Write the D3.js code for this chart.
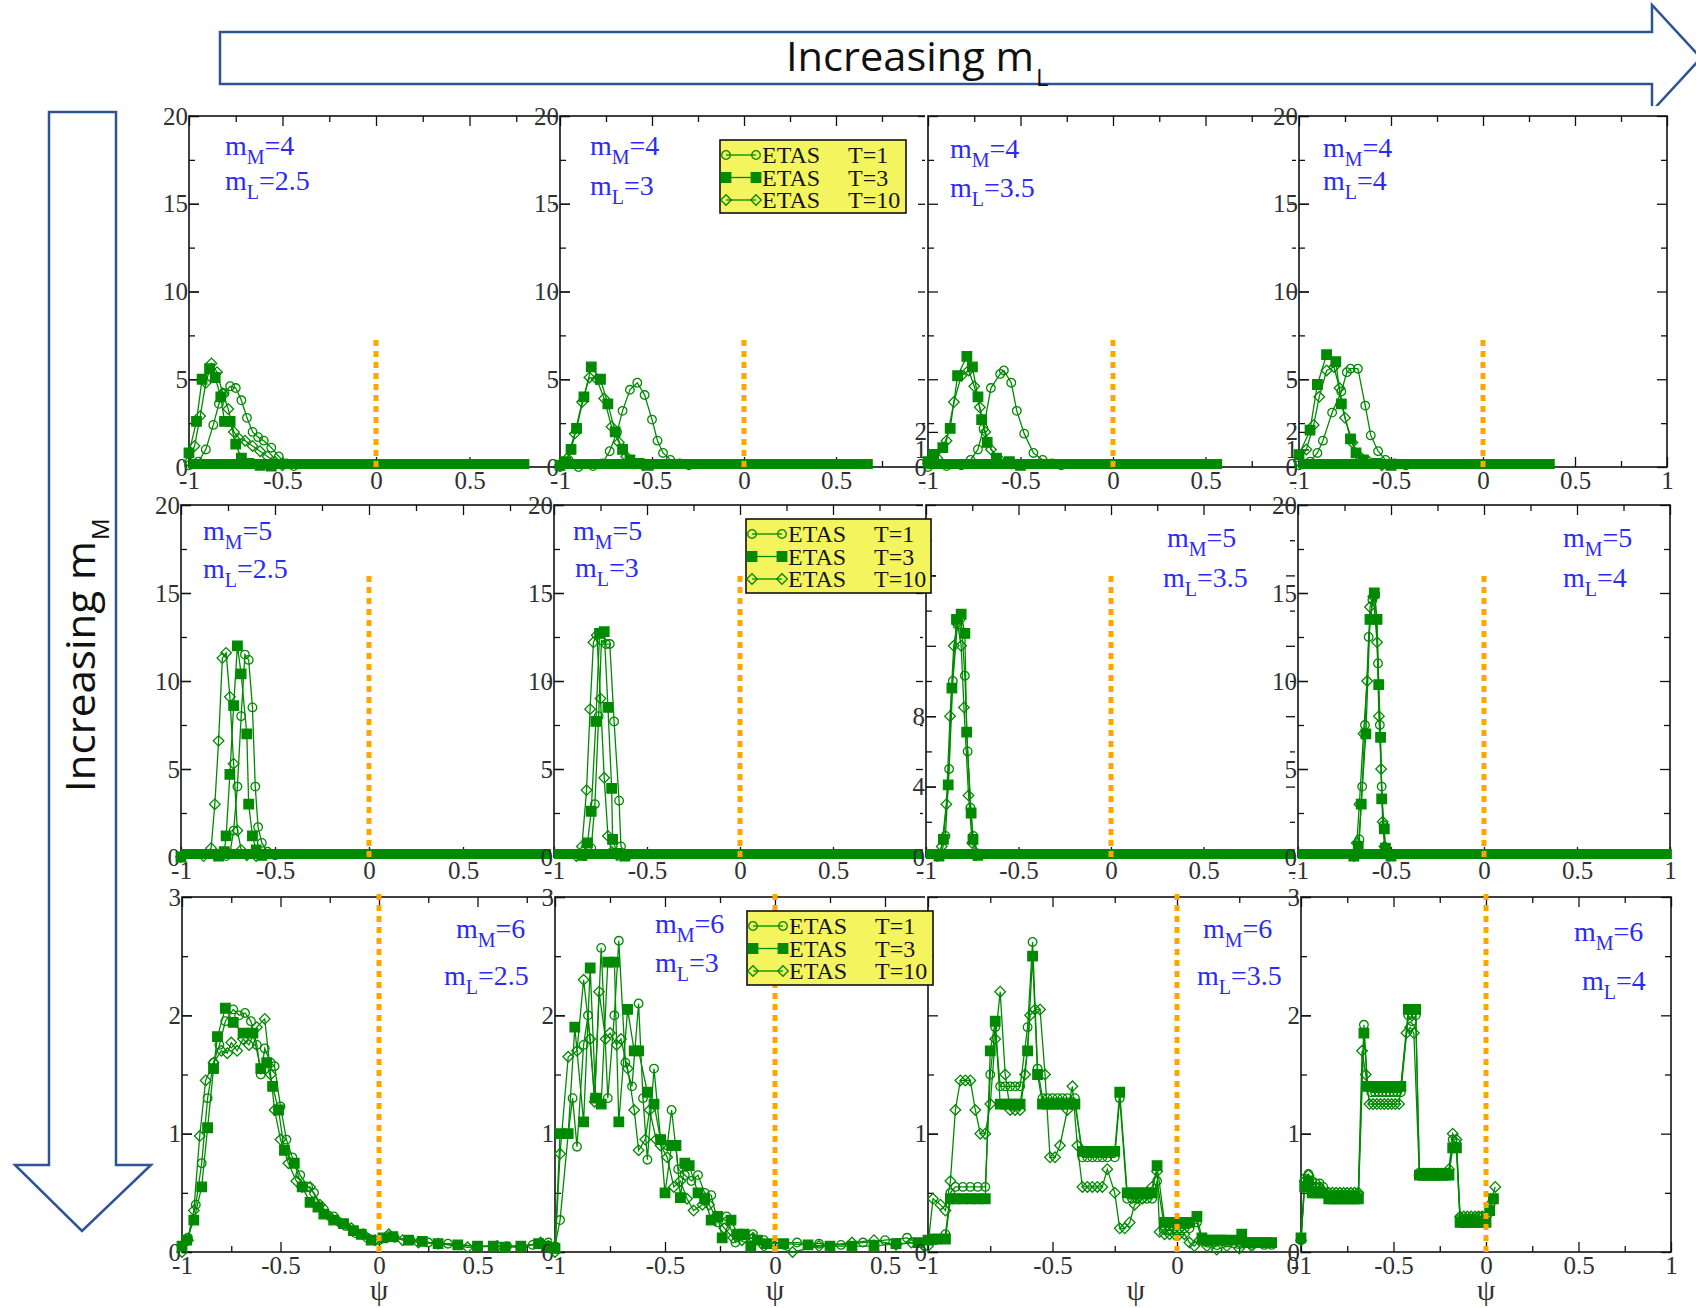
<!DOCTYPE html>
<html lang="en">
<head>
<meta charset="UTF-8">
<title>ETAS - psi distributions for increasing mM and mL</title>
<script src="https://d3js.org/d3.v7.min.js"></script>
<style>
  body { margin: 0; background: #fff; }
  svg { display: block; }
  .tick text { font-family: "Liberation Serif", "DejaVu Serif", serif; font-size: 25px; fill: #303030; }
  .tick line { stroke: #111; stroke-width: 1.3; }
  .ann { font-family: "Liberation Serif", serif; font-size: 28px; fill: #2b2bf5; }
  .ann .sub { font-size: 20px; }
  .legend text { font-family: "Liberation Serif", serif; font-size: 24px; fill: #151515; }
  .psi { font-family: "Liberation Serif", serif; font-size: 29px; fill: #303030; }
  .arrow-text { font-family: "Open Sans", "Noto Sans", sans-serif; font-size: 40px; fill: #111; }
  .arrow-sub { font-family: "Open Sans", "Noto Sans", sans-serif; font-size: 24px; fill: #111; }
</style>
</head>
<body>
<svg id="chart" width="1696" height="1308"></svg>
<script>
// ---------- data: psi distributions, [psi, P(psi)] ----------
// m_M = 4
var m4L25_T1 = [[-1.0,0.1],[-0.95,0.3],[-0.91,1.0],[-0.87,2.4],[-0.84,3.6],[-0.81,4.2],[-0.78,4.6],[-0.75,4.5],[-0.72,3.8],[-0.69,2.8],[-0.66,2.0],[-0.63,1.7],[-0.60,1.5],[-0.56,1.1],[-0.52,0.6],[-0.48,0.2],[-0.44,0.05]];
var m4L25_T3 = [[-1.0,0.8],[-0.96,2.6],[-0.93,5.0],[-0.89,5.6],[-0.86,5.1],[-0.83,4.0],[-0.81,2.6],[-0.78,2.6],[-0.75,1.3],[-0.72,0.5],[-0.68,0.2],[-0.62,0.1],[-0.56,0.05]];
var m4L25_T10 = [[-1.0,0.3],[-0.97,1.2],[-0.94,2.9],[-0.91,4.8],[-0.88,5.9],[-0.85,5.4],[-0.82,4.2],[-0.79,3.3],[-0.76,2.0],[-0.73,1.6],[-0.70,1.5],[-0.66,1.2],[-0.62,0.9],[-0.58,0.6],[-0.54,0.3],[-0.50,0.1]];

var m4L3_T1 = [[-1.0,0.0],[-0.90,0.0],[-0.82,0.05],[-0.77,0.2],[-0.73,0.9],[-0.69,2.0],[-0.66,3.2],[-0.62,4.4],[-0.58,4.8],[-0.54,4.1],[-0.50,2.7],[-0.47,1.5],[-0.44,0.8],[-0.40,0.4],[-0.35,0.2],[-0.30,0.1]];
var m4L3_T3 = [[-1.0,0.1],[-0.97,0.3],[-0.94,1.0],[-0.91,2.2],[-0.87,4.0],[-0.83,5.7],[-0.78,5.0],[-0.74,3.6],[-0.70,2.0],[-0.66,1.0],[-0.62,0.4],[-0.57,0.2],[-0.52,0.1]];
var m4L3_T10 = [[-1.0,0.1],[-0.96,0.5],[-0.92,1.9],[-0.88,3.7],[-0.84,5.1],[-0.80,5.0],[-0.76,3.9],[-0.72,2.3],[-0.68,1.4],[-0.64,0.6],[-0.60,0.2],[-0.55,0.1]];

var m4L35_T1 = [[-1.0,0.0],[-0.90,0.05],[-0.82,0.1],[-0.77,0.4],[-0.73,1.0],[-0.70,2.2],[-0.66,4.5],[-0.61,5.3],[-0.59,5.5],[-0.55,4.8],[-0.52,3.2],[-0.48,1.9],[-0.43,0.8],[-0.38,0.4],[-0.33,0.2],[-0.28,0.1]];
var m4L35_T3 = [[-1.0,0.3],[-0.97,0.7],[-0.92,1.1],[-0.88,2.2],[-0.84,5.2],[-0.79,6.3],[-0.76,5.7],[-0.73,4.0],[-0.71,2.7],[-0.68,1.4],[-0.63,0.5],[-0.56,0.3],[-0.50,0.1]];
var m4L35_T10 = [[-1.0,0.2],[-0.95,0.5],[-0.90,1.5],[-0.86,3.7],[-0.82,5.2],[-0.78,5.5],[-0.75,4.6],[-0.72,3.4],[-0.69,2.0],[-0.66,1.0],[-0.61,0.4],[-0.55,0.2]];

var m4L4_T1 = [[-1.0,0.1],[-0.94,0.3],[-0.90,0.8],[-0.87,1.5],[-0.82,3.1],[-0.77,4.3],[-0.74,5.4],[-0.72,5.6],[-0.68,5.6],[-0.64,3.5],[-0.61,1.8],[-0.57,0.9],[-0.53,0.4],[-0.48,0.2],[-0.42,0.1]];
var m4L4_T3 = [[-1.0,0.7],[-0.94,2.1],[-0.90,4.7],[-0.85,6.4],[-0.80,6.0],[-0.77,3.6],[-0.72,1.6],[-0.69,0.8],[-0.65,0.4],[-0.58,0.2],[-0.50,0.1]];
var m4L4_T10 = [[-1.0,0.3],[-0.96,1.0],[-0.92,2.4],[-0.89,4.0],[-0.85,5.5],[-0.81,5.7],[-0.78,4.5],[-0.75,2.8],[-0.71,1.4],[-0.67,0.6],[-0.62,0.3],[-0.55,0.1]];

// m_M = 5
var m5L25_T1 = [[-1.0,0],[-0.76,0.05],[-0.74,0.2],[-0.72,1.5],[-0.70,4.0],[-0.68,8.0],[-0.66,11.5],[-0.64,11.2],[-0.62,8.5],[-0.605,4.0],[-0.59,1.7],[-0.57,0.8],[-0.54,0.3],[-0.50,0.1]];
var m5L25_T3 = [[-1.0,0],[-0.80,0.05],[-0.77,0.3],[-0.76,1.2],[-0.74,4.7],[-0.72,8.6],[-0.70,12.0],[-0.68,10.4],[-0.65,7.0],[-0.64,3.0],[-0.62,1.2],[-0.60,0.4],[-0.57,0.1]];
var m5L25_T10 = [[-1.0,0],[-0.88,0.05],[-0.84,0.5],[-0.82,3.0],[-0.80,6.6],[-0.78,11.3],[-0.76,11.6],[-0.74,9.1],[-0.72,5.3],[-0.70,1.5],[-0.68,0.4],[-0.65,0.1],[-0.60,0.05]];

var m5L3_T1 = [[-0.84,0.05],[-0.80,0.5],[-0.78,3.0],[-0.76,8.0],[-0.745,12.3],[-0.72,12.1],[-0.70,12.1],[-0.677,7.7],[-0.65,3.2],[-0.64,0.6],[-0.60,0.1]];
var m5L3_T3 = [[-0.85,0.1],[-0.82,0.8],[-0.80,2.6],[-0.775,7.7],[-0.755,12.7],[-0.73,12.8],[-0.71,8.5],[-0.69,3.9],[-0.685,1.0],[-0.66,0.2],[-0.62,0.05]];
var m5L3_T10 = [[-0.88,0.05],[-0.85,0.6],[-0.825,3.8],[-0.806,8.4],[-0.788,12.2],[-0.77,12.6],[-0.75,9.0],[-0.73,4.5],[-0.71,1.2],[-0.69,0.3],[-0.66,0.1]];

var m5L35_T1 = [[-0.92,0.05],[-0.895,1.2],[-0.875,5.0],[-0.855,10.0],[-0.83,13.2],[-0.81,13.6],[-0.79,10.3],[-0.775,6.0],[-0.76,2.8],[-0.745,1.2],[-0.72,0.2]];
var m5L35_T3 = [[-0.93,0.05],[-0.906,1.0],[-0.88,4.1],[-0.86,9.6],[-0.835,13.5],[-0.81,13.8],[-0.79,12.7],[-0.78,7.1],[-0.756,2.5],[-0.746,1.0],[-0.72,0.1]];
var m5L35_T10 = [[-0.94,0.05],[-0.915,0.6],[-0.89,3.0],[-0.87,8.0],[-0.85,12.0],[-0.83,13.3],[-0.81,12.0],[-0.795,8.5],[-0.77,3.5],[-0.75,0.8],[-0.73,0.1]];

var m5L4_T1 = [[-0.69,0.05],[-0.67,1.0],[-0.655,4.0],[-0.64,7.5],[-0.62,12.5],[-0.60,14.6],[-0.585,14.9],[-0.57,11.0],[-0.56,7.5],[-0.55,4.0],[-0.54,1.8],[-0.53,0.5],[-0.50,0.05]];
var m5L4_T3 = [[-0.70,0.05],[-0.676,0.6],[-0.66,3.0],[-0.635,7.0],[-0.613,13.5],[-0.59,15.0],[-0.575,13.5],[-0.566,9.8],[-0.556,6.8],[-0.55,3.3],[-0.536,1.6],[-0.53,0.5],[-0.50,0.05]];
var m5L4_T10 = [[-0.70,0.05],[-0.684,0.8],[-0.67,3.0],[-0.648,7.0],[-0.628,10.0],[-0.613,14.2],[-0.595,14.8],[-0.575,12.2],[-0.565,8.0],[-0.553,5.0],[-0.545,2.0],[-0.535,0.6],[-0.51,0.05]];

// m_M = 6
var m6L25_T1 = [[-1.0,0.05],[-0.97,0.12],[-0.93,0.4],[-0.90,0.75],[-0.87,1.3],[-0.84,1.6],[-0.81,1.75],[-0.78,1.95],[-0.74,2.05],[-0.71,2.0],[-0.68,2.02],[-0.65,1.95],[-0.62,1.75],[-0.60,1.5],[-0.58,1.72],[-0.55,1.6],[-0.53,1.57],[-0.50,1.23],[-0.47,0.95],[-0.44,0.8],[-0.40,0.65],[-0.36,0.55],[-0.33,0.5],[-0.28,0.36],[-0.23,0.3],[-0.17,0.22],[-0.12,0.16],[-0.06,0.12],[0.0,0.1],[0.08,0.12],[0.16,0.1],[0.25,0.08],[0.35,0.07],[0.5,0.05],[0.65,0.05],[0.78,0.06],[0.86,0.08]];
var m6L25_T3 = [[-1.0,0.05],[-0.976,0.1],[-0.94,0.27],[-0.90,0.55],[-0.87,1.05],[-0.84,1.55],[-0.82,1.82],[-0.78,2.06],[-0.74,1.94],[-0.69,1.85],[-0.64,1.85],[-0.60,1.55],[-0.57,1.6],[-0.54,1.4],[-0.51,1.2],[-0.48,0.86],[-0.43,0.75],[-0.39,0.55],[-0.35,0.42],[-0.31,0.38],[-0.28,0.32],[-0.23,0.27],[-0.18,0.24],[-0.13,0.18],[-0.09,0.15],[-0.04,0.1],[0.02,0.12],[0.07,0.13],[0.15,0.1],[0.22,0.09],[0.30,0.07],[0.40,0.06],[0.50,0.05],[0.58,0.05],[0.64,0.04],[0.72,0.05],[0.81,0.07],[0.85,0.05]];
var m6L25_T10 = [[-1.0,0.0],[-0.97,0.1],[-0.94,0.35],[-0.91,0.98],[-0.88,1.45],[-0.84,1.6],[-0.80,1.7],[-0.77,1.68],[-0.75,1.77],[-0.72,1.7],[-0.69,1.8],[-0.66,1.75],[-0.62,1.9],[-0.58,1.97],[-0.55,1.5],[-0.53,1.2],[-0.50,0.95],[-0.46,0.75],[-0.42,0.6],[-0.39,0.55],[-0.35,0.55],[-0.30,0.4],[-0.25,0.3],[-0.20,0.25],[-0.14,0.2],[-0.08,0.15],[-0.02,0.1],[0.05,0.15],[0.12,0.1],[0.2,0.08],[0.3,0.07],[0.45,0.04],[0.6,0.05],[0.72,0.04],[0.82,0.08],[0.86,0.05]];

var m6L3_T1 = [[-1.0,0.05],[-0.977,0.27],[-0.94,1.0],[-0.92,1.3],[-0.90,0.89],[-0.87,1.75],[-0.85,2.0],[-0.82,1.3],[-0.79,2.57],[-0.76,1.3],[-0.73,2.0],[-0.71,2.63],[-0.68,1.6],[-0.65,1.4],[-0.62,2.1],[-0.60,1.3],[-0.58,0.78],[-0.55,1.55],[-0.52,0.95],[-0.49,0.9],[-0.47,1.2],[-0.44,0.7],[-0.41,0.65],[-0.38,0.6],[-0.35,0.65],[-0.32,0.5],[-0.29,0.48],[-0.26,0.25],[-0.22,0.3],[-0.18,0.08],[-0.14,0.12],[-0.10,0.15],[-0.05,0.1],[0.0,0.08],[0.1,0.08],[0.2,0.07],[0.3,0.06],[0.4,0.08],[0.5,0.1],[0.6,0.12],[0.68,0.05]];
var m6L3_T3 = [[-1.0,0.03],[-0.977,1.0],[-0.94,1.0],[-0.91,1.9],[-0.87,1.1],[-0.84,2.4],[-0.815,1.3],[-0.79,1.25],[-0.76,2.45],[-0.73,2.45],[-0.71,1.1],[-0.67,2.05],[-0.64,1.7],[-0.62,1.7],[-0.58,1.35],[-0.55,1.25],[-0.52,0.95],[-0.50,0.5],[-0.47,0.9],[-0.45,0.9],[-0.43,0.46],[-0.41,0.75],[-0.39,0.73],[-0.35,0.5],[-0.32,0.45],[-0.29,0.27],[-0.26,0.3],[-0.24,0.12],[-0.20,0.27],[-0.17,0.15],[-0.14,0.15],[-0.11,0.05],[-0.08,0.1],[-0.04,0.07],[0.04,0.07],[0.15,0.06],[0.25,0.05],[0.35,0.05],[0.45,0.05],[0.55,0.07],[0.65,0.08],[0.70,0.08]];
var m6L3_T10 = [[-1.0,0.0],[-0.977,0.83],[-0.94,1.65],[-0.90,1.7],[-0.87,2.3],[-0.84,1.8],[-0.82,1.27],[-0.80,2.2],[-0.77,1.8],[-0.75,1.85],[-0.72,1.75],[-0.70,1.8],[-0.67,1.55],[-0.64,1.2],[-0.62,0.86],[-0.59,0.95],[-0.57,1.2],[-0.54,0.95],[-0.52,0.9],[-0.49,0.8],[-0.46,0.55],[-0.43,0.6],[-0.40,0.45],[-0.37,0.35],[-0.33,0.4],[-0.30,0.4],[-0.27,0.3],[-0.23,0.2],[-0.19,0.12],[-0.15,0.1],[-0.10,0.12],[-0.05,0.05],[0.0,0.05],[0.08,0.0],[0.2,0.05],[0.35,0.08],[0.45,0.1],[0.55,0.06],[0.62,0.08],[0.68,0.05]];

var m6L35_T1 = [[-1.0,0.1],[-0.97,0.1],[-0.93,0.15],[-0.91,0.5],[-0.89,0.55],[-0.86,0.55],[-0.83,0.55],[-0.80,0.55],[-0.77,0.55],[-0.75,1.5],[-0.73,1.9],[-0.71,1.4],[-0.69,1.4],[-0.67,1.4],[-0.65,1.4],[-0.63,1.4],[-0.60,1.9],[-0.58,2.62],[-0.56,1.55],[-0.54,1.3],[-0.52,1.3],[-0.50,1.3],[-0.48,1.3],[-0.46,1.3],[-0.44,1.3],[-0.41,1.3],[-0.38,0.8],[-0.36,0.8],[-0.34,0.8],[-0.32,0.8],[-0.30,0.8],[-0.28,0.8],[-0.25,0.8],[-0.23,1.3],[-0.20,0.45],[-0.18,0.45],[-0.16,0.45],[-0.14,0.45],[-0.12,0.45],[-0.10,0.45],[-0.08,0.6],[-0.05,0.2],[-0.03,0.18],[-0.01,0.2],[0.01,0.2],[0.03,0.2],[0.05,0.2],[0.08,0.25],[0.10,0.1],[0.12,0.08],[0.15,0.08],[0.20,0.08],[0.25,0.08],[0.30,0.06],[0.35,0.06],[0.38,0.06]];
var m6L35_T3 = [[-1.0,0.1],[-0.97,0.11],[-0.93,0.11],[-0.91,0.45],[-0.89,0.45],[-0.86,0.45],[-0.83,0.45],[-0.80,0.45],[-0.77,0.45],[-0.75,1.7],[-0.73,1.95],[-0.71,1.25],[-0.69,1.25],[-0.67,1.25],[-0.65,1.25],[-0.63,1.25],[-0.60,1.7],[-0.58,2.5],[-0.56,1.5],[-0.54,1.25],[-0.52,1.25],[-0.50,1.25],[-0.48,1.25],[-0.46,1.25],[-0.44,1.25],[-0.41,1.25],[-0.38,0.85],[-0.36,0.85],[-0.34,0.85],[-0.32,0.85],[-0.30,0.85],[-0.28,0.85],[-0.25,0.85],[-0.23,1.35],[-0.20,0.5],[-0.18,0.5],[-0.16,0.5],[-0.14,0.5],[-0.12,0.5],[-0.10,0.5],[-0.08,0.73],[-0.05,0.25],[-0.03,0.25],[-0.01,0.25],[0.01,0.25],[0.03,0.25],[0.05,0.25],[0.08,0.3],[0.10,0.12],[0.12,0.1],[0.14,0.1],[0.16,0.1],[0.18,0.1],[0.20,0.1],[0.24,0.1],[0.26,0.15],[0.28,0.08],[0.30,0.08],[0.32,0.08],[0.34,0.08],[0.36,0.08],[0.38,0.08]];
var m6L35_T10 = [[-1.0,0.05],[-0.98,0.45],[-0.95,0.4],[-0.93,0.35],[-0.91,0.6],[-0.89,1.2],[-0.87,1.45],[-0.85,1.45],[-0.83,1.45],[-0.81,1.2],[-0.79,1.0],[-0.77,1.0],[-0.75,1.25],[-0.73,1.8],[-0.71,2.2],[-0.69,1.5],[-0.67,1.2],[-0.65,1.2],[-0.63,1.2],[-0.61,1.5],[-0.59,2.0],[-0.57,2.05],[-0.55,2.05],[-0.53,1.5],[-0.51,0.8],[-0.49,0.8],[-0.47,0.9],[-0.44,1.2],[-0.42,1.4],[-0.40,0.9],[-0.38,0.55],[-0.36,0.55],[-0.34,0.55],[-0.32,0.55],[-0.30,0.55],[-0.28,0.7],[-0.25,0.5],[-0.23,0.2],[-0.21,0.2],[-0.19,0.25],[-0.17,0.4],[-0.14,0.45],[-0.12,0.5],[-0.10,0.55],[-0.08,0.68],[-0.07,0.17],[-0.05,0.15],[-0.03,0.15],[-0.01,0.15],[0.01,0.15],[0.03,0.15],[0.05,0.08],[0.07,0.05],[0.09,0.1],[0.12,0.05],[0.16,0.02],[0.20,0.05],[0.25,0.03],[0.30,0.05]];

var m6L4_T1 = [[-1.0,0.1],[-0.98,0.62],[-0.96,0.66],[-0.94,0.6],[-0.92,0.58],[-0.90,0.58],[-0.88,0.55],[-0.85,0.48],[-0.83,0.48],[-0.81,0.48],[-0.79,0.48],[-0.77,0.48],[-0.75,0.48],[-0.73,0.48],[-0.71,0.48],[-0.69,0.48],[-0.66,1.92],[-0.64,1.4],[-0.62,1.35],[-0.60,1.35],[-0.58,1.35],[-0.56,1.35],[-0.54,1.35],[-0.52,1.35],[-0.50,1.35],[-0.48,1.35],[-0.46,1.35],[-0.42,2.0],[-0.40,1.95],[-0.38,2.0],[-0.36,0.67],[-0.34,0.67],[-0.32,0.67],[-0.30,0.67],[-0.28,0.67],[-0.26,0.67],[-0.24,0.67],[-0.22,0.67],[-0.20,0.67],[-0.18,0.95],[-0.16,0.92],[-0.14,0.28],[-0.12,0.28],[-0.10,0.28],[-0.08,0.28],[-0.06,0.28],[-0.04,0.3],[-0.02,0.3],[0.0,0.3],[0.02,0.35],[0.04,0.45]];
var m6L4_T3 = [[-1.0,0.12],[-0.98,0.55],[-0.96,0.6],[-0.94,0.5],[-0.92,0.5],[-0.90,0.5],[-0.88,0.5],[-0.85,0.45],[-0.83,0.45],[-0.81,0.45],[-0.79,0.45],[-0.77,0.45],[-0.75,0.45],[-0.73,0.45],[-0.71,0.45],[-0.69,0.45],[-0.66,1.85],[-0.64,1.4],[-0.62,1.4],[-0.60,1.4],[-0.58,1.4],[-0.56,1.4],[-0.54,1.4],[-0.52,1.4],[-0.50,1.4],[-0.48,1.4],[-0.46,1.4],[-0.42,2.05],[-0.40,2.05],[-0.38,2.05],[-0.36,0.65],[-0.34,0.65],[-0.32,0.65],[-0.30,0.65],[-0.28,0.65],[-0.26,0.65],[-0.24,0.65],[-0.22,0.65],[-0.20,0.65],[-0.18,0.88],[-0.16,0.88],[-0.14,0.25],[-0.12,0.25],[-0.10,0.25],[-0.08,0.25],[-0.06,0.25],[-0.04,0.25],[-0.02,0.25],[0.0,0.25],[0.02,0.35],[0.04,0.45]];
var m6L4_T10 = [[-1.0,0.1],[-0.98,0.6],[-0.96,0.65],[-0.94,0.55],[-0.92,0.55],[-0.90,0.55],[-0.88,0.5],[-0.85,0.5],[-0.83,0.5],[-0.81,0.5],[-0.79,0.5],[-0.77,0.5],[-0.75,0.5],[-0.73,0.5],[-0.71,0.5],[-0.69,0.5],[-0.67,1.7],[-0.65,1.5],[-0.63,1.25],[-0.61,1.25],[-0.59,1.25],[-0.57,1.25],[-0.55,1.25],[-0.53,1.25],[-0.51,1.25],[-0.49,1.25],[-0.47,1.25],[-0.43,1.85],[-0.41,1.9],[-0.39,1.85],[-0.36,0.65],[-0.34,0.65],[-0.32,0.65],[-0.30,0.65],[-0.28,0.65],[-0.26,0.65],[-0.24,0.65],[-0.22,0.65],[-0.20,0.7],[-0.18,1.0],[-0.16,0.95],[-0.14,0.3],[-0.12,0.3],[-0.10,0.3],[-0.08,0.3],[-0.06,0.3],[-0.04,0.3],[-0.02,0.3],[0.0,0.3],[0.02,0.4],[0.05,0.55]];

// rows = m_M, columns = m_L
var mMValues = ["4", "5", "6"];
var mLValues = ["2.5", "3", "3.5", "4"];
var seriesNames = ["T=1", "T=3", "T=10"];
var yMaxByRow = [20, 20, 3];
// right end of the thick run of zero-valued points
var zeroRunEnd = [[0.82, 0.70, 0.59, 0.39], [1.0, 1.0, 1.0, 1.01], [null, null, null, null]];
// height reached by the dotted line at psi = 0
var dottedTop = [7.4, 16, 3.05];
// tick labels on the y axis of each panel
var yLabels = [
  [[0, 5, 10, 15, 20], [0, 5, 10, 15, 20], [0, 1, 2], [0, 1, 2, 5, 10, 15, 20]],
  [[0, 5, 10, 15, 20], [0, 5, 10, 15, 20], [0, 4, 8, 16], [0, 5, 10, 15, 20]],
  [[0, 1, 2, 3], [0, 1, 2, 3], [0, 1], [0, 1, 2, 3]]
];
var xLabels = [-1, -0.5, 0, 0.5, 1];
var xMinor = [-0.75, -0.25, 0.25, 0.75];
// where the psi axis title sits (in psi units) for the bottom row
var psiTitleAt = [0, 0, -0.165, 0];

var data = [
  [[m4L25_T1, m4L25_T3, m4L25_T10], [m4L3_T1, m4L3_T3, m4L3_T10], [m4L35_T1, m4L35_T3, m4L35_T10], [m4L4_T1, m4L4_T3, m4L4_T10]],
  [[m5L25_T1, m5L25_T3, m5L25_T10], [m5L3_T1, m5L3_T3, m5L3_T10], [m5L35_T1, m5L35_T3, m5L35_T10], [m5L4_T1, m5L4_T3, m5L4_T10]],
  [[m6L25_T1, m6L25_T3, m6L25_T10], [m6L3_T1, m6L3_T3, m6L3_T10], [m6L35_T1, m6L35_T3, m6L35_T10], [m6L4_T1, m6L4_T3, m6L4_T10]]
];

// ---------- layout (pixels) ----------
var frameLeft = [[189, 560, 928, 1299], [181, 554, 926, 1298], [182, 555, 928, 1301]];
var frameRight = [[563, 928, 1298, 1667], [557, 926, 1296, 1670], [576, 995, 1426, 1671]];
var frameTop = [116, 505, 897];
var frameBottom = [467, 857, 1252];
var sheetBelow = [28, 28, 60];
// annotation: [x line 1, y line 1, x line 2, y line 2]
var annPos = [
  [[225, 155, 225, 190], [590, 155, 590, 195], [950, 158, 950, 197], [1323, 157, 1323, 190]],
  [[203, 540, 203, 578], [573, 540, 575, 577], [1167, 547, 1163, 587], [1563, 547, 1563, 587]],
  [[456, 938, 444, 985], [655, 933, 655, 972], [1203, 938, 1197, 985], [1574, 941, 1582, 990]]
];
// legend box in the second column of every row
var legendBox = [[720, 140, 186, 73], [746, 519, 185, 74], [747, 911, 186, 74]];

var green = "#008a00";
var orange = "#ffa500";

var svg = d3.select("#chart");

// ---------- the two big slide arrows ----------
var arrowStroke = "#2f5496";
svg.append("polygon")
  .attr("points", "220,32 1652,32 1652,5 1701,58 1652,111 1652,84 220,84")
  .attr("fill", "#fff").attr("stroke", arrowStroke).attr("stroke-width", 2.5);
svg.append("text").attr("class", "arrow-text")
  .attr("x", 786).attr("y", 71)
  .attr("textLength", 248).attr("lengthAdjust", "spacingAndGlyphs")
  .text("Increasing m");
svg.append("text").attr("class", "arrow-sub").attr("x", 1036).attr("y", 86).text("L");

svg.append("polygon")
  .attr("points", "49,112 116,112 116,1165 151,1165 82,1231 15,1165 49,1165")
  .attr("fill", "#fff").attr("stroke", arrowStroke).attr("stroke-width", 2.5);
var leftTitle = svg.append("g").attr("transform", "translate(95,792) rotate(-90)");
leftTitle.append("text").attr("class", "arrow-text")
  .attr("x", 0).attr("y", 0)
  .attr("textLength", 251).attr("lengthAdjust", "spacingAndGlyphs")
  .text("Increasing m");
leftTitle.append("text").attr("class", "arrow-sub").attr("x", 252).attr("y", 14).text("M");

// ---------- symbols ----------
function addSymbols(g, pts, kind, x, y) {
  var sym = g.selectAll(null).data(pts).enter().append("path")
    .attr("stroke", green).attr("stroke-width", 1.3);
  if (kind === 0) {
    // open circle
    sym.attr("d", d3.symbol().type(d3.symbolCircle).size(58)())
      .attr("fill", "none")
      .attr("transform", function(d) { return "translate(" + x(d[0]) + "," + y(d[1]) + ")"; });
  } else if (kind === 1) {
    // filled square
    sym.attr("d", d3.symbol().type(d3.symbolSquare).size(90)())
      .attr("fill", green)
      .attr("transform", function(d) { return "translate(" + x(d[0]) + "," + y(d[1]) + ")"; });
  } else {
    // open diamond
    sym.attr("d", d3.symbol().type(d3.symbolSquare).size(56)())
      .attr("fill", "none")
      .attr("transform", function(d) { return "translate(" + x(d[0]) + "," + y(d[1]) + ") rotate(45)"; });
  }
}

function fmt(v) { return String(v); }

function drawPanel(r, c) {
  var left = frameLeft[r][c], right = frameRight[r][c];
  var top = frameTop[r], bottom = frameBottom[r];
  var x = d3.scaleLinear().domain([-1, 1]).range([left, right]);
  var y = d3.scaleLinear().domain([0, yMaxByRow[r]]).range([bottom, top]);
  var g = svg.append("g").attr("class", "panel");

  // each panel is a white sheet pasted over its neighbours
  g.append("rect")
    .attr("x", left - 3).attr("y", top - 10)
    .attr("width", right - left + 6).attr("height", bottom - top + 10 + sheetBelow[r])
    .attr("fill", "#fff");

  // tick sets
  var yMajor, yMinor;
  if (r === 2) { yMajor = [0, 1, 2, 3]; yMinor = [0.5, 1.5, 2.5]; }
  else if (r === 1 && c === 2) { yMajor = [0, 4, 8, 12, 16, 20]; yMinor = [2, 6, 10, 14, 18]; }
  else { yMajor = [0, 5, 10, 15, 20]; yMinor = [2.5, 7.5, 12.5, 17.5]; }

  function clean(sel) { sel.select(".domain").remove(); }

  // inward ticks on all four sides
  g.append("g").attr("transform", "translate(0," + bottom + ")")
    .call(d3.axisBottom(x).tickValues(xMinor).tickSizeInner(-6).tickSizeOuter(0).tickFormat(""))
    .call(clean);
  g.append("g").attr("transform", "translate(0," + top + ")")
    .call(d3.axisTop(x).tickValues(xLabels).tickSizeInner(-10).tickSizeOuter(0).tickFormat(""))
    .call(clean);
  g.append("g").attr("transform", "translate(0," + top + ")")
    .call(d3.axisTop(x).tickValues(xMinor).tickSizeInner(-6).tickSizeOuter(0).tickFormat(""))
    .call(clean);
  g.append("g").attr("transform", "translate(" + left + ",0)")
    .call(d3.axisLeft(y).tickValues(yMajor).tickSizeInner(-10).tickSizeOuter(0).tickFormat(""))
    .call(clean);
  g.append("g").attr("transform", "translate(" + left + ",0)")
    .call(d3.axisLeft(y).tickValues(yMinor).tickSizeInner(-6).tickSizeOuter(0).tickFormat(""))
    .call(clean);
  g.append("g").attr("transform", "translate(" + right + ",0)")
    .call(d3.axisRight(y).tickValues(yMajor).tickSizeInner(-10).tickSizeOuter(0).tickFormat(""))
    .call(clean);
  g.append("g").attr("transform", "translate(" + right + ",0)")
    .call(d3.axisRight(y).tickValues(yMinor).tickSizeInner(-6).tickSizeOuter(0).tickFormat(""))
    .call(clean);

  // labelled ticks
  g.append("g").attr("transform", "translate(0," + bottom + ")")
    .call(d3.axisBottom(x).tickValues(xLabels).tickSizeInner(-10).tickSizeOuter(0).tickPadding(4).tickFormat(fmt))
    .call(clean);
  g.append("g").attr("transform", "translate(" + left + ",0)")
    .call(d3.axisLeft(y).tickValues(yLabels[r][c]).tickSizeInner(-10).tickSizeOuter(0).tickPadding(1).tickFormat(fmt))
    .call(clean);

  // frame
  g.append("rect")
    .attr("x", left).attr("y", top)
    .attr("width", right - left).attr("height", bottom - top)
    .attr("fill", "none").attr("stroke", "#111").attr("stroke-width", 1.6);

  // thick run of points sitting on zero
  if (zeroRunEnd[r][c] !== null) {
    g.append("rect")
      .attr("x", x(-1)).attr("y", y(0) - 8)
      .attr("width", x(zeroRunEnd[r][c]) - x(-1)).attr("height", 10)
      .attr("fill", green);
  }

  // the three ETAS series: T=3 first, then T=10, then T=1 on top
  var line = d3.line().x(function(d) { return x(d[0]); }).y(function(d) { return y(d[1]); });
  [1, 2, 0].forEach(function(k) {
    var pts = data[r][c][k];
    g.append("path").datum(pts)
      .attr("d", line).attr("fill", "none")
      .attr("stroke", green).attr("stroke-width", 1.3);
    addSymbols(g, pts, k, x, y);
  });

  // dotted marker at psi = 0
  g.append("line")
    .attr("x1", x(0)).attr("x2", x(0))
    .attr("y1", y(0)).attr("y2", y(dottedTop[r]))
    .attr("stroke", orange).attr("stroke-width", 5)
    .attr("stroke-dasharray", "6,5");

  // m_M / m_L annotation
  var a = annPos[r][c];
  var t1 = g.append("text").attr("class", "ann").attr("x", a[0]).attr("y", a[1]);
  t1.append("tspan").text("m");
  t1.append("tspan").attr("class", "sub").attr("dy", 9).text("M");
  t1.append("tspan").attr("dy", -9).text("=" + mMValues[r]);
  var t2 = g.append("text").attr("class", "ann").attr("x", a[2]).attr("y", a[3]);
  t2.append("tspan").text("m");
  t2.append("tspan").attr("class", "sub").attr("dy", 9).text("L");
  t2.append("tspan").attr("dy", -9).text("=" + mLValues[c]);

  // psi axis title on the bottom row
  if (r === 2) {
    g.append("text").attr("class", "psi")
      .attr("x", x(psiTitleAt[c])).attr("y", bottom + 48)
      .attr("text-anchor", "middle")
      .text("\u03c8");
  }
}

for (var r = 0; r < 3; r++) {
  for (var c = 0; c < 4; c++) {
    drawPanel(r, c);
  }
}

// ---------- legends (second column) ----------
legendBox.forEach(function(b) {
  var lg = svg.append("g").attr("class", "legend");
  lg.append("rect")
    .attr("x", b[0]).attr("y", b[1]).attr("width", b[2]).attr("height", b[3])
    .attr("fill", "#f4f45e").attr("stroke", "#111").attr("stroke-width", 1.6);
  var rowY = d3.scalePoint().domain(seriesNames).range([b[1] + 23, b[1] + 68]);
  var sx = d3.scaleLinear().domain([0, 1]).range([b[0] + 6, b[0] + 36]);
  seriesNames.forEach(function(name, k) {
    var yy = rowY(name) - 8;
    lg.append("line")
      .attr("x1", sx(0)).attr("x2", sx(1)).attr("y1", yy).attr("y2", yy)
      .attr("stroke", green).attr("stroke-width", 1.3);
    addSymbols(lg, [[0, 0], [1, 0]], k, sx, function() { return yy; });
    lg.append("text").attr("x", b[0] + 42).attr("y", rowY(name)).text("ETAS");
    lg.append("text").attr("x", b[0] + 128).attr("y", rowY(name)).text(name);
  });
});
</script>
</body>
</html>
